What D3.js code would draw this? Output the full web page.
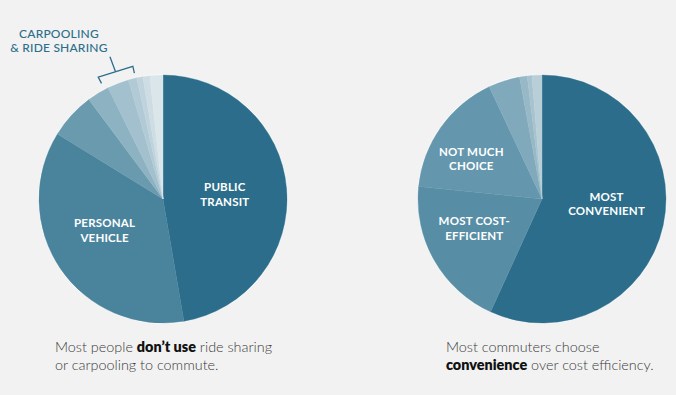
<!DOCTYPE html>
<html>
<head>
<meta charset="utf-8">
<script src="https://cdn.jsdelivr.net/npm/d3@7"></script>
<style>
  body { margin: 0; background: #f2f2f2; }
  svg { display: block; }
</style>
</head>
<body>
<script>
// commute mode shares (left pie), clockwise from 12 o'clock
const modeNames = ["Public Transit", "Personal Vehicle", "Other", "Walking", "Carpooling", "Ride Sharing", "Mode G", "Mode H", "Mode I"];
const modeValues = [47.3, 36.5, 6.0, 2.9, 2.8, 1.1, 0.8, 0.9, 1.7];
const modeColors = ["#2b6d8a", "#4a849c", "#6a9aae", "#8db2c1", "#a2c0cd", "#b1cad5", "#bfd3dc", "#cddde3", "#dbe6ea"];

// reasons for choice (right pie)
const reasonNames = ["Most Convenient", "Most Cost-Efficient", "Not Much Choice", "Reason D", "Reason E", "Reason F", "Reason G"];
const reasonValues = [56.8, 19.8, 16.4, 4.1, 1.0, 0.6, 1.3];
const reasonColors = ["#2b6d8a", "#588ea5", "#6497ad", "#80a9bb", "#97b8c6", "#a7c3cf", "#b9cfd8"];

const width = 676, height = 395;
const radius = 124;

const svg = d3.select("body")
    .append("svg")
    .attr("width", width)
    .attr("height", height);

svg.append("rect")
    .attr("width", width)
    .attr("height", height)
    .attr("fill", "#f2f2f2");

const pie = d3.pie().sort(null).value(d => d.value);
const arc = d3.arc().innerRadius(0).outerRadius(radius);

function drawPie(cx, cy, names, values, colors, labels) {
    const data = names.map((n, i) => ({name: n, value: values[i], color: colors[i]}));
    const arcs = pie(data);
    const g = svg.append("g").attr("transform", `translate(${cx},${cy})`);

    g.append("circle")
        .attr("r", radius + 0.8)
        .attr("fill", "#ffffff");

    g.selectAll("path")
        .data(arcs)
        .join("path")
        .attr("d", arc)
        .attr("fill", d => d.data.color)
        .attr("stroke", d => d.data.color)
        .attr("stroke-width", 0.4);

    // slice labels: centroid plus a hand nudge
    labels.forEach(l => {
        const a = arcs.find(d => d.data.name === l.name);
        const [x, y] = arc.centroid(a);
        const t = g.append("text")
            .attr("text-anchor", "middle")
            .attr("fill", "#ffffff")
            .attr("font-family", "Lato, 'Open Sans', sans-serif")
            .attr("font-weight", 700)
            .attr("font-size", "11.5px")
            .attr("letter-spacing", "0.2px");
        l.lines.forEach((line, i) => {
            t.append("tspan")
                .attr("x", x + l.dx)
                .attr("y", y + l.dy - 3.5 + i * 14.5)
                .text(line);
        });
    });
    return {g, arcs};
}

const left = drawPie(163, 199, modeNames, modeValues, modeColors, [
    {name: "Public Transit", lines: ["PUBLIC", "TRANSIT"], dx: 0, dy: 1},
    {name: "Personal Vehicle", lines: ["PERSONAL", "VEHICLE"], dx: -7, dy: -3}
]);

drawPie(542, 199, reasonNames, reasonValues, reasonColors, [
    {name: "Most Convenient", lines: ["MOST", "CONVENIENT"], dx: 4, dy: -8},
    {name: "Most Cost-Efficient", lines: ["MOST COST-", "EFFICIENT"], dx: -14, dy: -1},
    {name: "Not Much Choice", lines: ["NOT MUCH", "CHOICE"], dx: -20, dy: -4}
]);

// bracket over carpooling + ride sharing slices
const accent = "#2d6e8b";
const carp = left.arcs.find(d => d.data.name === "Carpooling");
const ride = left.arcs.find(d => d.data.name === "Ride Sharing");
const a0 = carp.startAngle - 0.03, a1 = ride.endAngle - 0.01;
const polar = (a, r) => [Math.sin(a) * r, -Math.cos(a) * r];
const p0in = polar(a0, 131), p0 = polar(a0, 138);
const p1in = polar(a1, 129), p1 = polar(a1, 136);
const am = (a0 + a1) / 2;
const mid = [(p0[0] + p1[0]) / 2, (p0[1] + p1[1]) / 2];
const stemTop = [mid[0] + Math.sin(am) * 16, mid[1] - Math.cos(am) * 16];

left.g.append("path")
    .attr("d", `M${p0in}L${p0}L${p1}L${p1in}M${mid}L${stemTop}`)
    .attr("fill", "none")
    .attr("stroke", accent)
    .attr("stroke-width", 1.3);

const callout = left.g.append("text")
    .attr("text-anchor", "middle")
    .attr("fill", accent)
    .attr("font-family", "Lato, 'Open Sans', sans-serif")
    .attr("font-weight", 500)
    .attr("font-size", "12px")
    .attr("letter-spacing", "0.2px");
["CARPOOLING", "& RIDE SHARING"].forEach((line, i) => {
    callout.append("tspan")
        .attr("x", stemTop[0] - 51)
        .attr("y", stemTop[1] - 19 + i * 14)
        .text(line);
});

// captions
function caption(x, lines) {
    const t = svg.append("text")
        .attr("font-family", "Lato, 'Open Sans', sans-serif")
        .attr("font-size", "14.4px")
        .attr("font-weight", 300)
        .attr("fill", "#3a3a3a");
    lines.forEach((parts, i) => {
        const row = t.append("tspan").attr("x", x).attr("y", 352 + i * 18);
        parts.forEach((p, j) => {
            const s = j === 0 ? row : t.append("tspan");
            s.text(p.text);
            if (p.bold) s.attr("font-weight", 800).attr("fill", "#111111");
        });
    });
}

caption(55, [
    [{text: "Most people "}, {text: "don\u2019t use", bold: true}, {text: " ride sharing"}],
    [{text: "or carpooling to commute."}]
]);
caption(446, [
    [{text: "Most commuters choose"}],
    [{text: "convenience", bold: true}, {text: " over cost efficiency."}]
]);
</script>
</body>
</html>
